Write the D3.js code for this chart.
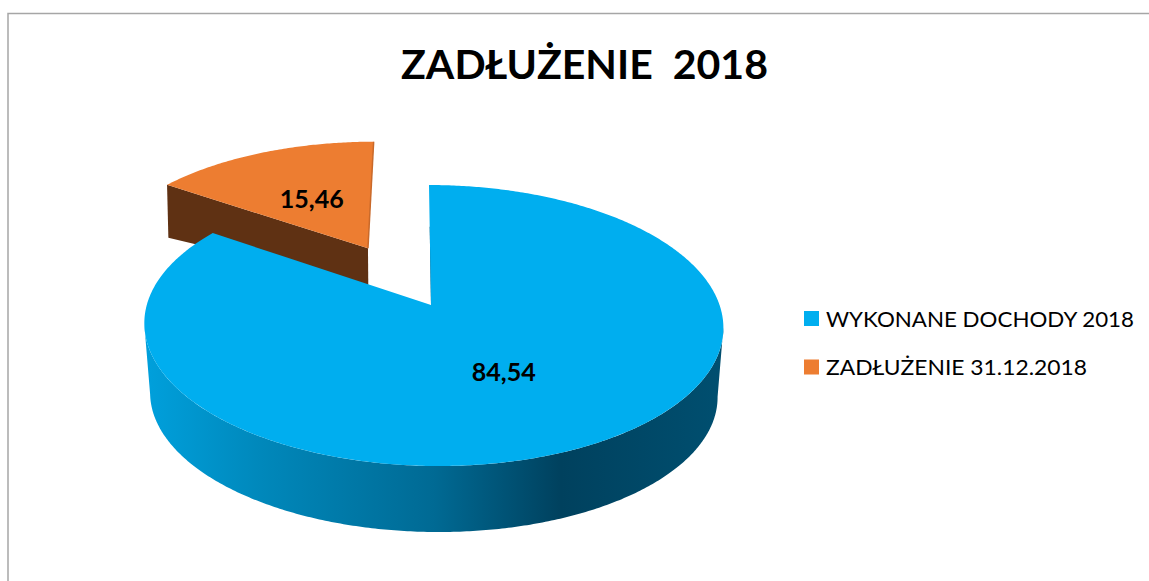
<!DOCTYPE html>
<html>
<head>
<meta charset="utf-8">
<script src="https://cdn.jsdelivr.net/npm/d3@7"></script>
<style>
html,body{margin:0;padding:0;background:#fff}
svg{display:block}
text{font-family:Lato,"Open Sans",sans-serif;fill:#000}
</style>
</head>
<body>
<script>
const titleText = "ZADŁUŻENIE\u00a0\u00a02018";
const categories = ["WYKONANE DOCHODY 2018", "ZADŁUŻENIE 31.12.2018"];
const values = [84.54, 15.46];
const valueLabels = ["84,54", "15,46"];
const topColors = ["#00AEEF", "#ED7D31"];
const explode = [0, 0.495];
const legendWidths = [308, 261];

const W = 1149, H = 581;
const svg = d3.select("body").append("svg").attr("width", W).attr("height", H);
const defs = svg.append("defs");

// Perspective projection of the pie plane
const cx = 431, cy = 305, rx = 286.4, ry = 137.5, k = 0.146, h = -0.0086, a = -2.3, b = 1;
function project(u, v) {
  const w = 1 + k * v + h * u;
  return [cx + (rx * u + a * v) / w, cy + (-ry * v + b * u) / w];
}
const pie = d3.pie().sort(null).value(d => d);
const arcs = pie(values);
const line = d3.line();
const STEP = 0.01;

function polar(ang, r, off) {
  return [r * Math.sin(ang) + off[0], r * Math.cos(ang) + off[1]];
}
function offsetOf(arc, i) {
  const mid = (arc.startAngle + arc.endAngle) / 2;
  return [explode[i] * Math.sin(mid), explode[i] * Math.cos(mid)];
}
function rim(a0, a1, off) {
  const n = Math.max(2, Math.ceil(Math.abs(a1 - a0) / STEP));
  return d3.range(n + 1).map(j => polar(a0 + (a1 - a0) * j / n, 1, off));
}
function sliceUV(arc, i) {
  const off = offsetOf(arc, i);
  return [off].concat(rim(arc.startAngle, arc.endAngle, off));
}

// Lower plane of the blue disc
const lowBlue = ([u, v]) => {
  const [x, y] = project(u, v);
  return [cx + 2 + (x - cx - 2) * 0.98, y + 66 + 4 * (1 + v)];
};
// Lower plane of the exploded slice
const lowOrange = ([u, v]) => {
  const [x, y] = project(u, v);
  return [cx + (x - cx) * 0.995, y + 32.5 - 19.4 * u];
};

// Frame
svg.append("path").attr("d", line([[8, H], [8, 13.5], [W, 13.5]]))
  .attr("fill", "none").attr("stroke", "#a6a6a6").attr("stroke-width", 1.5);

// Title
svg.append("text").attr("x", 401).attr("y", 78.5)
  .attr("font-size", 40).attr("font-weight", 700)
  .attr("textLength", 367).attr("lengthAdjust", "spacingAndGlyphs").text(titleText);

// Side gradient
const grad = defs.append("linearGradient").attr("id", "blueSide")
  .attr("gradientUnits", "userSpaceOnUse").attr("x1", 145).attr("x2", 723).attr("y1", 0).attr("y2", 0);
[[0, "#00a0dc"], [0.2, "#0088bb"], [0.5, "#006a94"], [0.72, "#00415e"], [1, "#004f70"]]
  .forEach(([o, c]) => grad.append("stop").attr("offset", o).attr("stop-color", c));

// Exploded slice
const orangeArc = arcs[1], orangeOff = offsetOf(orangeArc, 1);
const orangeEdge = [orangeOff, polar(orangeArc.startAngle, 1, orangeOff)];
svg.append("path")
  .attr("d", line(orangeEdge.map(p => project(...p)).concat(orangeEdge.slice().reverse().map(lowOrange))) + "Z")
  .attr("fill", "#5F3113");
svg.append("path")
  .attr("d", line(sliceUV(orangeArc, 1).map(p => project(...p))) + "Z")
  .attr("fill", topColors[1]);
svg.append("path")
  .attr("d", line([orangeOff, polar(orangeArc.endAngle, 1, orangeOff)].map(p => project(...p))))
  .attr("fill", "none").attr("stroke", "#c9692a").attr("stroke-width", 1.5);

// Blue body
const blueArc = arcs[0], blueOff = offsetOf(blueArc, 0);
const frontRim = rim(Math.PI * 0.548, Math.PI * 1.452, blueOff);
svg.append("path")
  .attr("d", line(frontRim.map(p => project(...p)).concat(frontRim.slice().reverse().map(lowBlue))) + "Z")
  .attr("fill", "url(#blueSide)");

// Thin inner wall at the first cut
const wallTop = project(0, 0.62), wallEnd = project(0, 0);
svg.append("path")
  .attr("d", line([wallTop, wallEnd, [wallEnd[0] + 1, wallEnd[1] + 2], [wallEnd[0] + 1, wallTop[1]]]) + "Z")
  .attr("fill", "#00415e");

// Blue top
svg.append("path")
  .attr("d", line(sliceUV(blueArc, 0).map(p => project(...p))) + "Z")
  .attr("fill", topColors[0]);

// Value labels
arcs.forEach((arc, i) => {
  const off = offsetOf(arc, i);
  const [x, y] = project(...polar((arc.startAngle + arc.endAngle) / 2, 0.5, off));
  svg.append("text").attr("x", x - 32).attr("y", y).attr("dy", "0.44em")
    .attr("font-size", 24).attr("font-weight", 700)
    .attr("textLength", 64).attr("lengthAdjust", "spacingAndGlyphs")
    .text(valueLabels[i]);
});

// Legend
const legendY = d3.scalePoint().domain(categories).range([318.5, 367]);
categories.forEach((c, i) => {
  const y = legendY(c);
  svg.append("rect").attr("x", 804).attr("y", y - 7.5).attr("width", 15).attr("height", 15).attr("fill", topColors[i]);
  svg.append("text").attr("x", 826).attr("y", y + 8).attr("font-size", 22).attr("fill", "#111")
    .attr("textLength", legendWidths[i]).attr("lengthAdjust", "spacingAndGlyphs").text(c);
});
</script>
</body>
</html>
